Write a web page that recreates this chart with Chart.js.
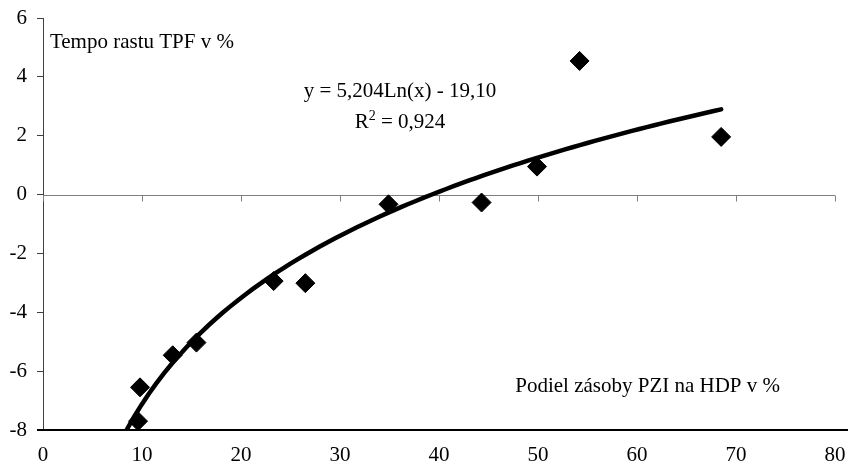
<!DOCTYPE html>
<html>
<head>
<meta charset="utf-8">
<script src="https://cdn.jsdelivr.net/npm/chart.js@4/dist/chart.umd.min.js"></script>
<style>
  html, body { margin: 0; padding: 0; background: #fff; }
  #wrap { width: 848px; height: 470px; }
</style>
</head>
<body>
<div id="wrap"><canvas id="tpfChart"></canvas></div>
<script>
// Podiel zásoby PZI na HDP (%) vs. tempo rastu TPF (%)
const pziShare  = [9.8, 9.6, 13.1, 15.5, 23.3, 26.5, 34.9, 44.3, 49.9, 54.2, 68.5];
const tpfGrowth = [-6.55, -7.7, -5.46, -5.03, -2.94, -3.01, -0.33, -0.27, 0.95, 4.54, 1.96];
const xTicks = [0, 10, 20, 30, 40, 50, 60, 70, 80];
const yTicks = [-8, -6, -4, -2, 0, 2, 4, 6];

// logaritmický trend, ako je uvedený v grafe
const trendA = 5.204;
const trendB = -19.10;
const trendText = 'y = 5,204Ln(x) - 19,10';
const r2Text = ' = 0,924';
const yTitle = 'Tempo rastu TPF v %';
const xTitle = 'Podiel zásoby PZI na HDP v %';

const FONT = '"Liberation Serif", "Times New Roman", serif';

// trend from where it enters the plot (y = -8) to the last observation
const trendStart = Math.exp((yTicks[0] - trendB) / trendA);
const trendEnd = Math.max(...pziShare);
const trendPts = [];
for (let i = 0; i <= 80; i++) {
    const xv = trendStart + (trendEnd - trendStart) * i / 80;
    trendPts.push({ x: xv, y: trendA * Math.log(xv) + trendB });
}

// keep the plot box where the original has it
function noPad(s) {
    s.paddingLeft = 0;
    s.paddingRight = 0;
    s.paddingTop = 0;
    s.paddingBottom = 0;
}

const overlay = {
    id: 'overlay',
    beforeDatasetsDraw(chart) {
        const { ctx, chartArea: a, scales: { x, y } } = chart;
        const y0 = Math.round(y.getPixelForValue(0)) + 0.5;
        ctx.save();
        // horizontal axis crossing at 0
        ctx.strokeStyle = '#7f7f7f';
        ctx.lineWidth = 1;
        ctx.beginPath();
        ctx.moveTo(a.left, y0);
        ctx.lineTo(a.right, y0);
        xTicks.forEach(v => {
            const px = Math.round(x.getPixelForValue(v)) + 0.5;
            ctx.moveTo(px, y0);
            ctx.lineTo(px, y0 + 6);
        });
        ctx.stroke();
        // bottom line
        ctx.strokeStyle = '#000';
        ctx.lineWidth = 2;
        ctx.beginPath();
        ctx.moveTo(a.left - 6, a.bottom);
        ctx.lineTo(chart.width, a.bottom);
        ctx.stroke();
        ctx.restore();
    },
    afterDraw(chart) {
        const { ctx, scales: { x, y } } = chart;
        ctx.save();
        ctx.fillStyle = '#000';
        ctx.textBaseline = 'alphabetic';
        ctx.font = '21px ' + FONT;

        ctx.textAlign = 'left';
        ctx.fillText(yTitle, x.getPixelForValue(0.7), y.getPixelForValue(4.98));
        ctx.fillText(xTitle, x.getPixelForValue(47.7), y.getPixelForValue(-6.71));

        const cx = x.getPixelForValue(36.06);
        ctx.textAlign = 'center';
        ctx.fillText(trendText, cx, y.getPixelForValue(3.32));

        // R² with raised 2
        const by = y.getPixelForValue(2.26);
        const wR = ctx.measureText('R').width;
        const wRest = ctx.measureText(r2Text).width;
        ctx.font = '14px ' + FONT;
        const w2 = ctx.measureText('2').width;
        const left = cx - (wR + w2 + wRest) / 2;
        ctx.textAlign = 'left';
        ctx.fillText('2', left + wR, by - 8);
        ctx.font = '21px ' + FONT;
        ctx.fillText('R', left, by);
        ctx.fillText(r2Text, left + wR + w2, by);
        ctx.restore();
    }
};

const ctx = document.getElementById('tpfChart').getContext('2d');
const tpfChart = new Chart(ctx, {
    type: 'scatter',
    data: {
        datasets: [{
            label: 'Trend',
            type: 'line',
            data: trendPts,
            borderColor: '#000',
            borderWidth: 4.5,
            borderCapStyle: 'round',
            pointRadius: 0,
            tension: 0,
            fill: false
        }, {
            label: 'TPF',
            data: pziShare.map((v, i) => ({ x: v, y: tpfGrowth[i] })),
            pointStyle: 'rectRot',
            pointRadius: 9.5,
            backgroundColor: '#000',
            borderColor: '#000',
            borderWidth: 1,
            clip: false
        }]
    },
    options: {
        responsive: true,
        maintainAspectRatio: false,
        animation: false,
        layout: { padding: { left: 0, top: 18, right: 13, bottom: 0 } },
        plugins: {
            legend: { display: false },
            tooltip: { enabled: false }
        },
        scales: {
            x: {
                type: 'linear',
                min: 0,
                max: 80,
                afterBuildTicks: s => { s.ticks = xTicks.map(v => ({ value: v })); },
                grid: { display: false, drawTicks: false },
                border: { display: false },
                ticks: { padding: 13, color: '#000', font: { family: FONT, size: 21 } },
                afterFit: s => { s.height = 40; noPad(s); }
            },
            y: {
                min: -8,
                max: 6,
                afterBuildTicks: s => { s.ticks = yTicks.map(v => ({ value: v })); },
                grid: { drawOnChartArea: false, tickLength: 6, color: '#404040', lineWidth: 1 },
                border: { display: true, color: '#404040', width: 1 },
                ticks: { padding: 10, color: '#000', font: { family: FONT, size: 21 } },
                afterFit: s => { s.width = 43; noPad(s); }
            }
        }
    },
    plugins: [overlay]
});
</script>
</body>
</html>
